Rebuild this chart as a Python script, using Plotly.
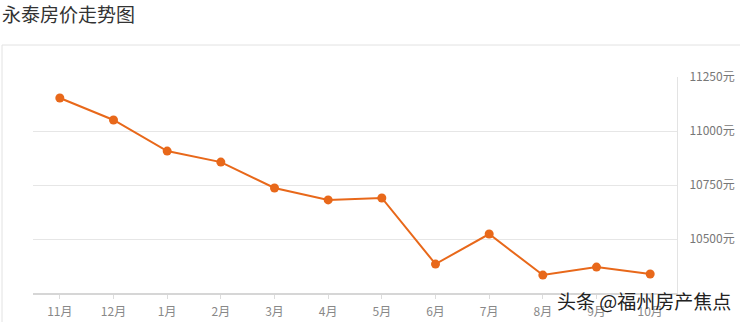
import plotly.graph_objects as go

months = ["11月", "12月", "1月", "2月", "3月", "4月", "5月", "6月", "7月", "8月", "9月", "10月"]
prices = [11153, 11051, 10907, 10856, 10736, 10681, 10690, 10384, 10523, 10333, 10370, 10338]
y_ticks = [10500, 10750, 11000, 11250]
y_tick_labels = ["10500元", "10750元", "11000元", "11250元"]

W, H = 740, 322
L, R, T, B = 33, 63, 77, 29
pw, ph = W - L - R, H - T - B

def px_x(px):
    return (px - L) / pw

def px_y(py):
    return (H - B - py) / ph

FONT = "Noto Sans CJK SC, Noto Sans, sans-serif"

fig = go.Figure()
fig.add_trace(go.Scatter(
    x=months, y=prices, mode="lines+markers",
    line=dict(color="#e8681a", width=2),
    marker=dict(color="#e8681a", size=9),
    hoverinfo="x+y", showlegend=False,
))

fig.update_layout(
    width=W, height=H,
    margin=dict(l=L, r=R, t=T, b=B, autoexpand=False),
    paper_bgcolor="white", plot_bgcolor="white",
    font=dict(family=FONT, color="#888", size=12),
    xaxis=dict(
        type="category", range=[-0.5, 11.5],
        showgrid=False, zeroline=False, automargin=False,
        showline=True, linecolor="#d6d6d6", linewidth=2,
        ticks="outside", ticklen=4, tickcolor="#dcdcdc", tickwidth=1,
        ticklabelstandoff=3,
        tickfont=dict(size=12, color="#888"),
        fixedrange=True,
    ),
    yaxis=dict(
        side="right", range=[10250, 11250], automargin=False,
        tickvals=y_ticks, ticktext=y_tick_labels,
        showgrid=True, gridcolor="#e6e6e6", gridwidth=1,
        zeroline=False,
        showline=True, linecolor="#e3e3e3", linewidth=1, mirror=False,
        ticks="", ticklabelstandoff=9,
        tickfont=dict(size=12, color="#777"),
        fixedrange=True,
    ),
    shapes=[
        dict(type="rect", xref="paper", yref="paper",
             x0=px_x(2), x1=px_x(760), y0=px_y(340), y1=px_y(45),
             line=dict(color="#e2e2e2", width=1), fillcolor="rgba(0,0,0,0)", layer="below"),
    ],
    annotations=[
        dict(text="永泰房价走势图", xref="paper", yref="paper",
             x=px_x(0), y=px_y(14), xanchor="left", yanchor="middle",
             showarrow=False, font=dict(size=19, color="#333", family=FONT)),
        dict(text="头条 @福州房产焦点", xref="paper", yref="paper",
             x=px_x(555), y=px_y(300), xanchor="left", yanchor="middle",
             showarrow=False, font=dict(size=19, color="#222", family=FONT,
                                        shadow="0px 0px 3px white")),
    ],
)

fig.write_html("out.html")
